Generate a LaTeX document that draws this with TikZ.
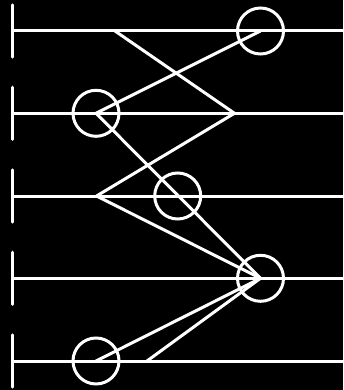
\documentclass[tikz,border=0pt]{standalone}
\begin{document}
\begin{tikzpicture}[x=1pt,y=-1pt,
  wire/.style={white,line width=3pt},
  bar/.style={white,line width=3.2pt,line cap=round},
  link/.style={white,line width=3pt,line cap=round,line join=round},
  gate/.style={circle,draw=white,line width=3pt,minimum size=46pt,inner sep=0pt}]
\fill[black] (0,0) rectangle (343,390);
\useasboundingbox (0,0) rectangle (343,390);
\clip (0,0) rectangle (343,390);
\foreach \i/\y in {1/31,2/113.3,3/196,4/278.3,5/361}{
  \coordinate (L\i) at (12.3,\y);
  \coordinate (R\i) at (350,\y);
  \draw[wire] (L\i) -- (R\i);
  \draw[bar] (12.3,\y-26) -- (12.3,\y+26);
  \draw[bar] (344.2,\y-26) -- (344.2,\y+26);
}
\node[gate] (g1) at (260.5,31) {};
\node[gate] (g2) at (96,113.3) {};
\node[gate] (g3) at (177.7,196) {};
\node[gate] (g4) at (260.5,278.3) {};
\node[gate] (g5) at (96,361) {};
\coordinate (a1) at (115,31);
\coordinate (a2) at (234.5,113.3);
\coordinate (a3) at (96.5,196);
\coordinate (a5) at (147,361);
\draw[link] (a1) -- (a2) -- (a3) -- (g4.center);
\draw[link] (g1.center) -- (g2.center) -- (g4.center);
\draw[link] (g4.center) -- (g5.center);
\draw[link] (g4.center) -- (a5);
\end{tikzpicture}
\end{document}
